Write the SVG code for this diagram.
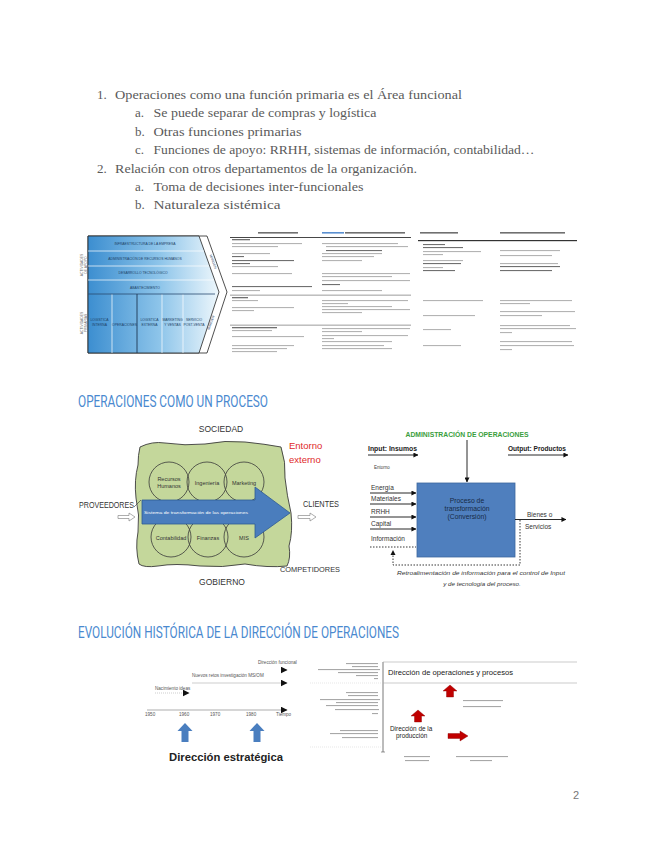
<svg xmlns="http://www.w3.org/2000/svg" width="655" height="848" viewBox="0 0 655 848">
<style>
.body{font-family:"Liberation Serif","DejaVu Serif",serif;font-size:13px;fill:#5a5a5a}
.h{font-family:Roboto,"Liberation Sans",sans-serif;font-size:16px;fill:#4a89cf}
.s{font-family:"Liberation Sans",Arial,sans-serif}
.vc{font-family:"Liberation Sans",Arial,sans-serif;font-size:3.4px;text-anchor:middle}
.bar{fill:#b4b4b4}
.bd{fill:#707070}
.ln{stroke:#111;stroke-width:0.9;fill:none}
.dot{stroke:#222;stroke-width:0.9;fill:none;stroke-dasharray:1.5 1.5}
.circ{fill:none;stroke:#3a3a3a;stroke-width:0.8}
</style>
<defs>
<linearGradient id="vcg" x1="0" y1="0" x2="1" y2="0">
<stop offset="0" stop-color="#3c8ed0"/>
<stop offset="0.55" stop-color="#8ec5ea"/>
<stop offset="1" stop-color="#eef7fc"/>
</linearGradient>
<marker id="ah" viewBox="0 0 6 6" refX="5.5" refY="3" markerWidth="5" markerHeight="5" orient="auto" markerUnits="userSpaceOnUse">
<path d="M0,0 L6,3 L0,6 Z" fill="#111"/>
</marker>
<marker id="ahb" viewBox="0 0 6 6" refX="5.5" refY="3" markerWidth="7" markerHeight="7" orient="auto" markerUnits="userSpaceOnUse">
<path d="M0,0 L6,3 L0,6 Z" fill="#111"/>
</marker>
</defs>
<rect width="655" height="848" fill="#fff"/>

<g id="list">
<text class="body" x="97" y="98.5">1.</text>
<text class="body" x="115" y="98.5" textLength="347" lengthAdjust="spacingAndGlyphs">Operaciones como una función primaria  es el Área funcional</text>
<text class="body" x="135" y="117.3">a.</text>
<text class="body" x="153.5" y="117.3" textLength="223" lengthAdjust="spacingAndGlyphs">Se puede separar de compras y logística</text>
<text class="body" x="135" y="135.7">b.</text>
<text class="body" x="153.5" y="135.7" textLength="148" lengthAdjust="spacingAndGlyphs">Otras funciones primarias</text>
<text class="body" x="135" y="154">c.</text>
<text class="body" x="153.5" y="154" textLength="381" lengthAdjust="spacingAndGlyphs">Funciones de apoyo: RRHH, sistemas de información, contabilidad…</text>
<text class="body" x="97" y="172.7">2.</text>
<text class="body" x="115" y="172.7" textLength="302" lengthAdjust="spacingAndGlyphs">Relación con otros departamentos de la organización.</text>
<text class="body" x="135" y="191">a.</text>
<text class="body" x="153.5" y="191" textLength="210" lengthAdjust="spacingAndGlyphs">Toma de decisiones inter-funcionales</text>
<text class="body" x="135" y="209.3">b.</text>
<text class="body" x="153.5" y="209.3" textLength="127" lengthAdjust="spacingAndGlyphs">Naturaleza sistémica</text>
</g>

<g id="value-chain">
<path d="M88,236 H207 L227,292 L207,353 H88 Z" fill="#fff" stroke="#222" stroke-width="0.8"/>
<path d="M88,236 H199 L219,292 L199,353 H88 Z" fill="url(#vcg)" stroke="#222" stroke-width="0.8"/>
<g stroke="#fff" stroke-width="0.7">
<line x1="88" y1="251" x2="204" y2="251"/>
<line x1="88" y1="266" x2="209" y2="266"/>
<line x1="88" y1="280" x2="214" y2="280"/>
<line x1="112" y1="294" x2="112" y2="353"/>
<line x1="162" y1="294" x2="162" y2="353"/>
<line x1="183" y1="294" x2="183" y2="353"/>
</g>
<line x1="88" y1="294" x2="215" y2="294" stroke="#2a4a70" stroke-width="0.8"/>
<line x1="137" y1="294" x2="137" y2="353" stroke="#1e3552" stroke-width="0.9"/>
<g class="vc" fill="#1d3f66">
<text x="145" y="245">INFRAESTRUCTURA DE LA EMPRESA</text>
<text x="145" y="260">ADMINISTRACIÓN DE RECURSOS HUMANOS</text>
<text x="143" y="274">DESARROLLO TECNOLÓGICO</text>
<text x="145" y="288.5">ABASTECIMIENTO</text>
<text x="99.5" y="321">LOGÍSTICA</text>
<text x="99.5" y="325.5">INTERNA</text>
<text x="124.5" y="325.5">OPERACIONES</text>
<text x="149.5" y="321">LOGÍSTICA</text>
<text x="149.5" y="325.5">EXTERNA</text>
<text x="172.5" y="321">MARKETING</text>
<text x="172.5" y="325.5">Y VENTAS</text>
<text x="194" y="321">SERVICIO</text>
<text x="194" y="325.5">POST-VENTA</text>
<text transform="translate(212,262) rotate(70)">MARGEN</text>
<text transform="translate(212,323) rotate(-70)">MARGEN</text>
</g>
<g class="vc" fill="#666">
<text transform="translate(83,265) rotate(-90)">ACTIVIDADES</text>
<text transform="translate(87,265) rotate(-90)">DE APOYO</text>
<text transform="translate(83,323) rotate(-90)">ACTIVIDADES</text>
<text transform="translate(87,323) rotate(-90)">PRIMARIAS</text>
</g>
</g>

<g id="table">
<rect class="bd" x="258" y="232" width="40" height="1.6"/>
<rect x="322" y="232" width="22" height="1.6" fill="#5a8fd0"/>
<rect class="bd" x="345" y="232" width="60" height="1.6"/>
<rect class="bd" x="420" y="232" width="38" height="1.6"/>
<rect class="bd" x="500" y="232" width="65" height="1.6"/>
<rect x="230" y="237" width="181" height="0.9" fill="#333"/>
<rect x="418" y="240" width="159" height="1.2" fill="#333"/>
<rect x="230" y="294.5" width="181" height="1.4" fill="#b8b8b8"/>
<rect x="230" y="324.5" width="181" height="1.4" fill="#b8b8b8"/>
<g class="bar">
<rect class="bd" x="232" y="239" width="18" height="1.3"/>
<rect x="232" y="243" width="70" height="1.1"/>
<rect x="232" y="246" width="46" height="1.1"/>
<rect x="232" y="253" width="38" height="1.1"/>
<rect class="bd" x="232" y="256" width="12" height="1.1"/>
<rect class="bd" x="232" y="260" width="62" height="1.1"/>
<rect class="bd" x="232" y="263" width="18" height="1.1"/>
<rect x="232" y="266" width="46" height="1.1"/>
<rect x="232" y="273" width="60" height="1.1"/>
<rect class="bd" x="232" y="286" width="80" height="1.1"/>
<rect x="232" y="290" width="28" height="1.1"/>
<rect class="bd" x="232" y="297" width="16" height="1.3"/>
<rect x="232" y="300" width="26" height="1.1"/>
<rect x="232" y="307" width="62" height="1.1"/>
<rect x="232" y="310" width="22" height="1.1"/>
<rect class="bd" x="232" y="327" width="45" height="1.3"/>
<rect x="232" y="330" width="40" height="1.1"/>
<rect x="232" y="336" width="72" height="1.1"/>
<rect x="232" y="345" width="62" height="1.1"/>
<rect x="232" y="348" width="55" height="1.1"/>
<rect x="232" y="351" width="45" height="1.1"/>
<rect x="322" y="243" width="76" height="1.1"/>
<rect x="326" y="246" width="82" height="1.1"/>
<rect class="bd" x="326" y="250" width="56" height="1.1"/>
<rect x="322" y="253" width="60" height="1.1"/>
<rect x="322" y="256" width="52" height="1.1"/>
<rect x="322" y="260" width="40" height="1.1"/>
<rect x="322" y="273" width="88" height="1.1"/>
<rect x="322" y="276" width="70" height="1.1"/>
<rect x="322" y="280" width="88" height="1.1"/>
<rect class="bd" x="322" y="284" width="18" height="1.1"/>
<rect x="322" y="290" width="60" height="1.1"/>
<rect x="322" y="300" width="86" height="1.1"/>
<rect x="322" y="303" width="26" height="1.1"/>
<rect x="322" y="306" width="70" height="1.1"/>
<rect x="322" y="309" width="88" height="1.1"/>
<rect x="322" y="312" width="40" height="1.1"/>
<rect x="322" y="328" width="88" height="1.1"/>
<rect x="322" y="331" width="40" height="1.1"/>
<rect x="322" y="335" width="86" height="1.1"/>
<rect x="322" y="338" width="12" height="1.1"/>
<rect x="322" y="341" width="70" height="1.1"/>
<rect x="322" y="345" width="62" height="1.1"/>
<rect x="322" y="348" width="70" height="1.1"/>
<rect class="bd" x="423" y="244" width="22" height="1.1"/>
<rect class="bd" x="423" y="247" width="40" height="1.1"/>
<rect x="423" y="251" width="58" height="1.1"/>
<rect x="423" y="254" width="20" height="1.1"/>
<rect x="423" y="260" width="40" height="1.1"/>
<rect class="bd" x="423" y="263" width="38" height="1.1"/>
<rect x="423" y="267" width="20" height="1.1"/>
<rect class="bd" x="423" y="270" width="32" height="1.1"/>
<rect x="423" y="300" width="60" height="1.1"/>
<rect x="423" y="315" width="52" height="1.1"/>
<rect x="423" y="329" width="28" height="1.1"/>
<rect x="423" y="345" width="38" height="1.1"/>
<rect x="500" y="250" width="60" height="1.1"/>
<rect x="500" y="255" width="52" height="1.1"/>
<rect x="500" y="263" width="58" height="1.1"/>
<rect class="bd" x="500" y="266" width="60" height="1.1"/>
<rect class="bd" x="500" y="270" width="52" height="1.1"/>
<rect x="500" y="300" width="72" height="1.1"/>
<rect x="500" y="303" width="30" height="1.1"/>
<rect x="500" y="311" width="75" height="1.1"/>
<rect x="500" y="315" width="42" height="1.1"/>
<rect x="500" y="325" width="70" height="1.1"/>
<rect x="500" y="328" width="76" height="1.1"/>
<rect x="500" y="332" width="12" height="1.1"/>
<rect x="500" y="341" width="72" height="1.1"/>
<rect x="500" y="345" width="74" height="1.1"/>
<rect x="500" y="349" width="12" height="1.1"/>
</g>
</g>

<text class="h" x="78" y="406.5" textLength="190" lengthAdjust="spacingAndGlyphs">OPERACIONES COMO UN PROCESO</text>

<g id="proceso-entorno">
<text class="s" x="221" y="432" font-size="8.5" text-anchor="middle" fill="#333">SOCIEDAD</text>
<text class="s" x="289" y="448.5" font-size="9.5" fill="#e02a2a">Entorno</text>
<text class="s" x="289" y="463" font-size="9.5" fill="#e02a2a">externo</text>
<path d="M140,447 Q152,441 165,443 Q185,446 205,444 Q225,440 245,442 Q265,444 281,447 Q286,462 285,478 Q287,496 291,513 Q293,532 289,546 Q291,558 287,566 Q268,568 245,564 Q222,568 200,566 Q175,563 158,566 Q144,568 139,564 Q135,548 138,532 Q140,515 136,498 Q134,480 138,465 Q138,455 140,447 Z" fill="#c4d79b" stroke="#3b3b3b" stroke-width="0.9"/>
<circle class="circ" cx="169" cy="482" r="20"/>
<circle class="circ" cx="207" cy="482" r="20"/>
<circle class="circ" cx="244" cy="482" r="20"/>
<circle class="circ" cx="171" cy="537" r="20"/>
<circle class="circ" cx="208" cy="537" r="20"/>
<circle class="circ" cx="244" cy="537" r="20"/>
<g class="s" font-size="5.5" text-anchor="middle" fill="#333">
<text x="169" y="481">Recursos</text>
<text x="169" y="487.5">Humanos</text>
<text x="207" y="485">Ingeniería</text>
<text x="244" y="485">Marketing</text>
<text x="171" y="540">Contabilidad</text>
<text x="208" y="540">Finanzas</text>
<text x="244" y="540">MIS</text>
</g>
<path d="M142,500 H255 V487 L290,513 L255,538 V524 H142 Z" fill="#4a7dbd" stroke="#2e5b93" stroke-width="0.8"/>
<text class="s" x="196" y="514" font-size="4.2" text-anchor="middle" fill="#fff" textLength="104" lengthAdjust="spacingAndGlyphs">Sistema de transformación de las operaciones</text>
<text class="s" x="79" y="508" font-size="8.5" fill="#333" textLength="55" lengthAdjust="spacingAndGlyphs">PROVEEDORES</text>
<line x1="134" y1="507" x2="141" y2="500" stroke="#333" stroke-width="0.6"/>
<text class="s" x="303" y="507" font-size="8.5" fill="#333" textLength="36" lengthAdjust="spacingAndGlyphs">CLIENTES</text>
<text class="s" x="280" y="572" font-size="7.5" fill="#333" textLength="60" lengthAdjust="spacingAndGlyphs">COMPETIDORES</text>
<text class="s" x="222" y="585" font-size="8.5" text-anchor="middle" fill="#333">GOBIERNO</text>
<path d="M118,515.5 H129 V513 L135,517 L129,521 V518.5 H118 Z" fill="#fff" stroke="#777" stroke-width="0.6"/>
<path d="M298,515.5 H310 V513 L316,517 L310,521 V518.5 H298 Z" fill="#fff" stroke="#777" stroke-width="0.6"/>
</g>

<g id="administracion">
<text class="s" x="467" y="437" font-size="6.8" text-anchor="middle" fill="#3a9e3c" font-weight="bold" textLength="123" lengthAdjust="spacingAndGlyphs">ADMINISTRACIÓN DE OPERACIONES</text>
<text class="s" x="368" y="451" font-size="7" font-weight="bold" fill="#222" textLength="49" lengthAdjust="spacingAndGlyphs">Input: Insumos</text>
<text class="s" x="508" y="451" font-size="7" font-weight="bold" fill="#222" textLength="58" lengthAdjust="spacingAndGlyphs">Output: Productos</text>
<text class="s" x="374" y="469" font-size="4.5" fill="#444">Entorno</text>
<rect x="417" y="483" width="98" height="74" fill="#4f7fbe" stroke="#3d679d" stroke-width="0.8"/>
<g class="s" font-size="6.8" text-anchor="middle" fill="#172b45">
<text x="467" y="503">Proceso de</text>
<text x="467" y="511">transformación</text>
<text x="467" y="519">(Conversión)</text>
</g>
<g class="s" font-size="6.5" fill="#333">
<text x="371" y="490">Energía</text>
<text x="371" y="501">Materiales</text>
<text x="371" y="514">RRHH</text>
<text x="371" y="526">Capital</text>
<text x="371" y="541">Información</text>
<text x="527" y="517">Bienes o</text>
<text x="525" y="529">Servicios</text>
</g>
<text class="s" x="481" y="575" font-size="6.2" font-style="italic" text-anchor="middle" fill="#333" textLength="168" lengthAdjust="spacingAndGlyphs">Retroalimentación de información para el control de Input</text>
<text class="s" x="482" y="586" font-size="6.2" font-style="italic" text-anchor="middle" fill="#333">y de tecnología del proceso.</text>
</g>

<g id="connectors">
<line class="ln" x1="368" y1="455" x2="418" y2="455" marker-end="url(#ah)"/>
<line class="ln" x1="508" y1="455" x2="568" y2="455" marker-end="url(#ah)"/>
<line class="ln" x1="467" y1="440" x2="467" y2="482" marker-end="url(#ah)"/>
<line class="ln" x1="370" y1="493" x2="416" y2="493" marker-end="url(#ah)"/>
<line class="ln" x1="370" y1="504" x2="416" y2="504" marker-end="url(#ah)"/>
<line class="ln" x1="370" y1="517" x2="416" y2="517" marker-end="url(#ah)"/>
<line class="ln" x1="370" y1="529" x2="416" y2="529" marker-end="url(#ah)"/>
<line class="dot" x1="370" y1="547" x2="416" y2="547"/>
<line class="ln" x1="515" y1="519.5" x2="566" y2="519.5" marker-end="url(#ah)"/>
<path class="dot" d="M520,520 V565 H393 V553"/>
<path d="M390.5,555 L393,550 L395.5,555 Z" fill="#111"/>
</g>

<text class="h" x="78" y="638" textLength="321" lengthAdjust="spacingAndGlyphs">EVOLUCIÓN HISTÓRICA DE LA DIRECCIÓN DE OPERACIONES</text>

<g id="timeline">
<line x1="147" y1="710" x2="287" y2="710" stroke="#777" stroke-width="0.6" marker-end="url(#ahb)"/>
<line x1="192" y1="683" x2="287" y2="683" stroke="#999" stroke-width="0.5" marker-end="url(#ahb)"/>
<line x1="155" y1="693" x2="189" y2="693" stroke="#999" stroke-width="0.5" stroke-dasharray="1 1" marker-end="url(#ahb)"/>
<line x1="283" y1="670" x2="287" y2="670" stroke="#999" stroke-width="0.5" marker-end="url(#ahb)"/>
<g class="s" font-size="4.6" fill="#555">
<text x="145" y="716">1950</text>
<text x="179" y="716">1960</text>
<text x="210" y="716">1970</text>
<text x="246" y="716">1980</text>
<text x="276" y="716">Tiempo</text>
<text x="155" y="690">Nacimiento ideas</text>
<text x="192" y="677">Nuevos retos investigación MS/OM</text>
<text x="258" y="664">Dirección funcional</text>
</g>
<path d="M185,723 L192.5,731 L188.5,731 L188.5,742 L181.5,742 L181.5,731 L177.5,731 Z" fill="#4a7ebf"/>
<path d="M257,723 L264.5,731 L260.5,731 L260.5,742 L253.5,742 L253.5,731 L249.5,731 Z" fill="#4a7ebf"/>
<text class="s" x="226" y="760.5" font-size="11" font-weight="bold" text-anchor="middle" fill="#222" textLength="114" lengthAdjust="spacingAndGlyphs">Dirección estratégica</text>
</g>

<g id="chart">
<line x1="383" y1="662" x2="383" y2="752" stroke="#555" stroke-width="0.8"/>
<line x1="381" y1="752" x2="385" y2="752" stroke="#555" stroke-width="0.6"/>
<line x1="383" y1="662" x2="577" y2="662" stroke="#aaa" stroke-width="0.6"/>
<line x1="383" y1="683" x2="577" y2="683" stroke="#aaa" stroke-width="0.6"/>
<line x1="310" y1="683" x2="381" y2="683" stroke="#ccc" stroke-width="0.5" stroke-dasharray="1 1"/>
<line x1="310" y1="747" x2="381" y2="747" stroke="#ccc" stroke-width="0.5" stroke-dasharray="1 1"/>
<text class="s" x="388" y="675" font-size="7.2" fill="#222" textLength="125" lengthAdjust="spacingAndGlyphs">Dirección de operaciones y procesos</text>
<text class="s" x="390" y="731" font-size="6.4" fill="#222">Dirección de la</text>
<text class="s" x="396" y="738" font-size="6.4" fill="#222">producción</text>
<path d="M450,685 L457,691 L453.5,691 L453.5,697 L446.5,697 L446.5,691 L443,691 Z" fill="#c00000" stroke="#8a0000" stroke-width="0.4"/>
<path d="M418,710 L425,716 L421.5,716 L421.5,722 L414.5,722 L414.5,716 L411,716 Z" fill="#c00000" stroke="#8a0000" stroke-width="0.4"/>
<path d="M448,733.5 L460,733.5 L460,731 L468,736 L460,741 L460,738.5 L448,738.5 Z" fill="#c00000" stroke="#8a0000" stroke-width="0.4"/>
<g fill="#a8a8a8">
<rect x="346" y="663" width="32" height="1.1"/>
<rect x="352" y="666" width="26" height="1.1"/>
<rect x="318" y="669" width="62" height="1.1"/>
<rect x="338" y="672" width="40" height="1.1"/>
<rect x="356" y="675" width="22" height="1.1"/>
<rect x="374" y="678" width="4" height="1.1"/>
<rect x="346" y="692" width="32" height="1.1"/>
<rect x="348" y="695" width="30" height="1.1"/>
<rect x="320" y="699" width="60" height="1.1"/>
<rect x="336" y="702" width="42" height="1.1"/>
<rect x="326" y="705" width="52" height="1.1"/>
<rect x="335" y="709" width="44" height="1.1"/>
<rect x="372" y="713" width="6" height="1.1"/>
<rect x="340" y="730" width="38" height="1.1"/>
<rect x="330" y="733" width="48" height="1.1"/>
<rect x="342" y="737" width="36" height="1.1"/>
<rect x="463" y="700" width="40" height="1.1"/>
<rect x="463" y="706" width="38" height="1.1"/>
<rect x="404" y="756" width="26" height="1.1"/>
<rect x="405" y="760" width="24" height="1.1"/>
<rect x="456" y="756" width="52" height="1.1"/>
<rect x="470" y="760" width="22" height="1.1"/>
</g>
</g>

<text x="573" y="799" font-family="Liberation Sans, sans-serif" font-size="11" fill="#777">2</text>
</svg>
